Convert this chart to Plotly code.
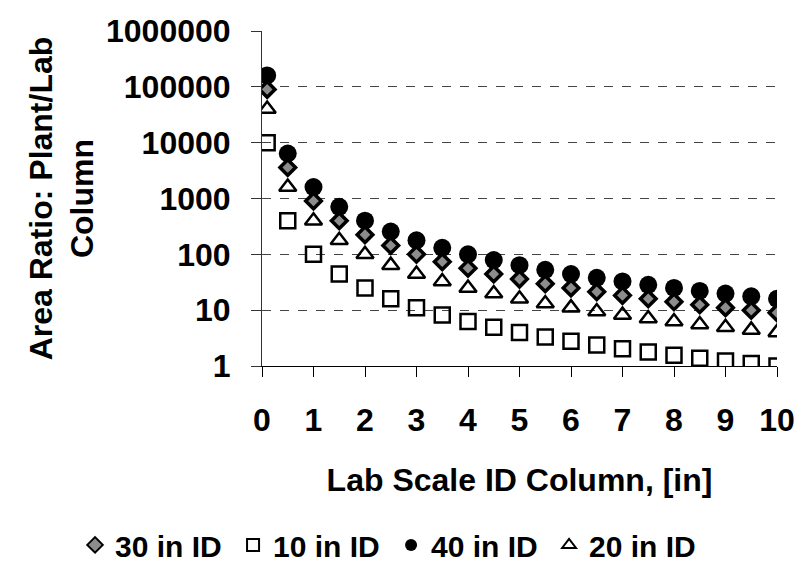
import plotly.graph_objects as go

# Lab scale column inner diameter, [in]
lab_id = [0.1, 0.5, 1, 1.5, 2, 2.5, 3, 3.5, 4, 4.5, 5, 5.5, 6, 6.5, 7, 7.5, 8, 8.5, 9, 9.5, 10]

# Area ratio plant/lab column for each plant column ID
ratio_10in = [10000, 400, 100, 44.4, 25, 16, 11.1, 8.16, 6.25, 4.94, 4, 3.31, 2.78, 2.37, 2.04, 1.78, 1.56, 1.38, 1.23, 1.11, 1]
ratio_20in = [40000, 1600, 400, 178, 100, 64, 44.4, 32.7, 25, 19.8, 16, 13.2, 11.1, 9.47, 8.16, 7.11, 6.25, 5.54, 4.94, 4.43, 4]
ratio_30in = [90000, 3600, 900, 400, 225, 144, 100, 73.5, 56.3, 44.4, 36, 29.8, 25, 21.3, 18.4, 16, 14.1, 12.5, 11.1, 9.97, 9]
ratio_40in = [160000, 6400, 1600, 711, 400, 256, 178, 131, 100, 79, 64, 52.9, 44.4, 37.9, 32.7, 28.4, 25, 22.1, 19.8, 17.7, 16]

y_tickvals = [1, 10, 100, 1000, 10000, 100000, 1000000]
y_ticktext = ["1", "10", "100", "1000", "10000", "100000", "1000000"]
x_tickvals = [0, 1, 2, 3, 4, 5, 6, 7, 8, 9, 10]

FONT = "Liberation Sans, Arial, sans-serif"

fig = go.Figure()

fig.add_trace(go.Scatter(
    x=lab_id, y=ratio_40in, mode="markers", name="<b>40 in ID</b>", legendrank=3,
    marker=dict(symbol="circle", size=18, color="black", line=dict(width=0)),
))
fig.add_trace(go.Scatter(
    x=lab_id, y=ratio_20in, mode="markers", name="<b>20 in ID</b>", legendrank=4,
    marker=dict(symbol="triangle-up-open", size=15, color="black", line=dict(width=2.5, color="black")),
))
fig.add_trace(go.Scatter(
    x=lab_id, y=ratio_10in, mode="markers", name="<b>10 in ID</b>", legendrank=2,
    marker=dict(symbol="square-open", size=15, color="black", line=dict(width=2.5, color="black")),
))
fig.add_trace(go.Scatter(
    x=lab_id, y=ratio_30in, mode="markers", name="<b>30 in ID</b>", legendrank=1,
    marker=dict(symbol="diamond", size=12, color="#8c8c8c", line=dict(width=3.5, color="black")),
))

fig.update_layout(
    width=796, height=581,
    margin=dict(l=262, r=19, t=31, b=215, autoexpand=False),
    paper_bgcolor="white", plot_bgcolor="white",
    font=dict(family=FONT, color="black"),
    showlegend=True,
    legend=dict(
        orientation="h", xref="paper", yref="paper",
        x=-0.363, xanchor="left", y=-0.534, yanchor="middle",
        font=dict(family=FONT, size=30, color="black"),
        itemwidth=30, entrywidth=113, entrywidthmode="pixels",
        tracegroupgap=0, itemsizing="constant",
    ),
)

fig.update_xaxes(
    range=[0, 10], tickvals=x_tickvals,
    showline=True, linecolor="black", linewidth=1,
    ticks="outside", ticklen=10, tickcolor="black", tickwidth=1,
    showgrid=False, zeroline=False,
    tickfont=dict(family=FONT, size=32, color="black", weight="bold"),
    ticklabelstandoff=16,
    title=dict(text="<b>Lab Scale ID Column, [in]</b>", font=dict(family=FONT, size=32, color="black"), standoff=31),
)
fig.update_yaxes(
    type="log", range=[0, 6], tickvals=y_tickvals, ticktext=y_ticktext,
    showline=True, linecolor="#333333", linewidth=1,
    ticks="outside", ticklen=10, tickcolor="#333333", tickwidth=1,
    showgrid=True, gridcolor="#444444", griddash="dash", gridwidth=1,
    zeroline=False,
    tickfont=dict(family=FONT, size=32, color="black", weight="bold"),
    ticklabelstandoff=14,
    title=dict(text="<b>Area Ratio: Plant/Lab<br>Column</b>", font=dict(family=FONT, size=32, color="black"), standoff=2),
)

fig.write_html("out.html")
